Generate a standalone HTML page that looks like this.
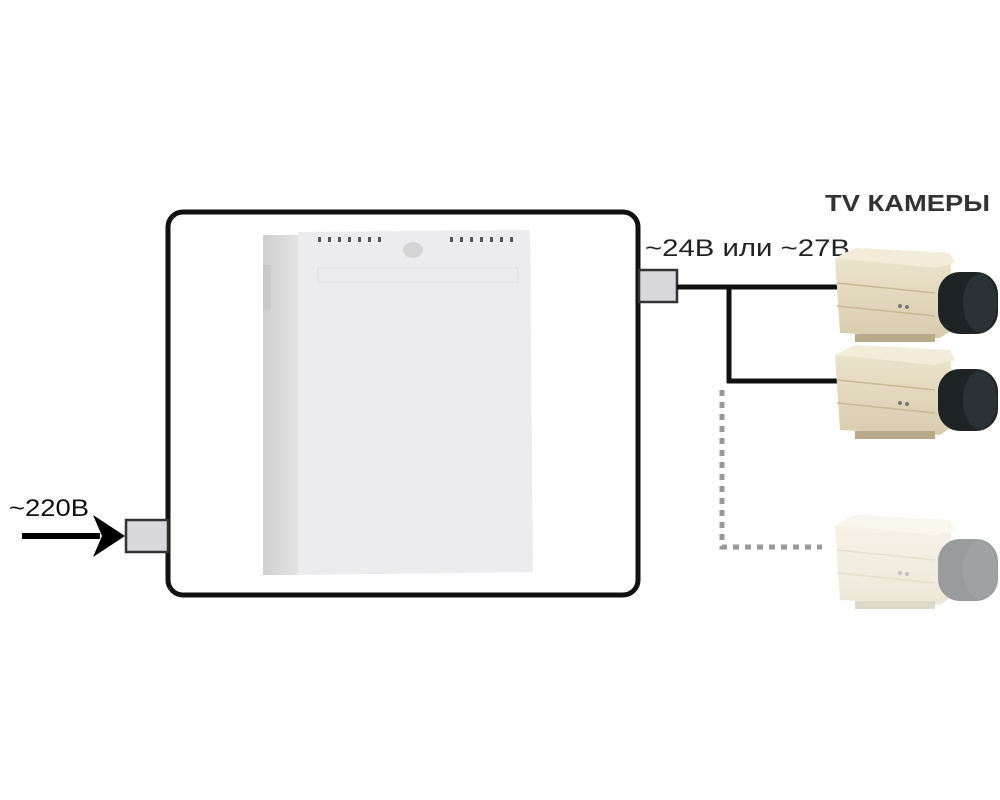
<!DOCTYPE html>
<html><head><meta charset="utf-8"><style>html,body{margin:0;padding:0;background:#fff}svg{display:block}</style></head>
<body>
<svg width="1000" height="800" viewBox="0 0 1000 800" xmlns="http://www.w3.org/2000/svg">
<defs>
<linearGradient id="side" x1="0" x2="1"><stop offset="0" stop-color="#cfcfcf"/><stop offset="1" stop-color="#e6e6e6"/></linearGradient>
<linearGradient id="cam" x1="0" y1="0" x2="0" y2="1"><stop offset="0" stop-color="#eee6d0"/><stop offset="1" stop-color="#d8ccad"/></linearGradient>
<g id="camera">
<polygon points="0,10 20,0 115,5 120,80 105,90 5,85" fill="url(#cam)"/>
<polygon points="0,10 100,20 120,15 115,5 20,0" fill="#f2ecd8"/>
<line x1="2" y1="35" x2="100" y2="45" stroke="#c7b995" stroke-width="1.5"/>
<line x1="2" y1="58" x2="100" y2="68" stroke="#c7b995" stroke-width="1.5"/>
<rect x="20" y="86" width="80" height="8" fill="#b8a98a"/>
<circle cx="65" cy="58" r="2" fill="#777"/><circle cx="72" cy="59" r="2" fill="#777"/>
<rect x="103" y="24" width="60" height="62" rx="22" fill="#1e2426"/>
<ellipse cx="145" cy="55" rx="17" ry="29" fill="#2b3235"/>
</g>
</defs>
<rect x="168" y="212" width="470" height="383" rx="15" fill="#fff" stroke="#111" stroke-width="5"/>
<rect x="263" y="235" width="40" height="340" fill="url(#side)"/>
<rect x="263" y="265" width="8" height="45" fill="#c9c9c9"/>
<path d="M298 232 L530 230 L533 572 L298 575 Z" fill="#ececee"/>
<rect x="318" y="268" width="200" height="14" fill="none" stroke="#dedede"/>
<g fill="#555">
<rect x="318" y="237" width="3" height="5"/><rect x="328" y="237" width="3" height="5"/><rect x="338" y="237" width="3" height="5"/><rect x="348" y="237" width="3" height="5"/><rect x="358" y="237" width="3" height="5"/><rect x="368" y="237" width="3" height="5"/><rect x="378" y="237" width="3" height="5"/>
<rect x="450" y="237" width="3" height="5"/><rect x="460" y="237" width="3" height="5"/><rect x="470" y="237" width="3" height="5"/><rect x="480" y="237" width="3" height="5"/><rect x="490" y="237" width="3" height="5"/><rect x="500" y="237" width="3" height="5"/><rect x="510" y="237" width="3" height="5"/>
</g>
<ellipse cx="413" cy="250" rx="10" ry="8" fill="#d4d4d4"/>
<text x="9" y="516" font-family="Liberation Sans, DejaVu Sans, sans-serif" font-size="24" fill="#111" textLength="80" lengthAdjust="spacingAndGlyphs">~220В</text>
<line x1="22" y1="536" x2="100" y2="536" stroke="#000" stroke-width="6"/>
<polygon points="93,515 125,536 93,557 102,536" fill="#000"/>
<rect x="126" y="520" width="42" height="32" fill="#d8d8dc" stroke="#333" stroke-width="2.5"/>
<text x="645" y="256" font-family="Liberation Sans, DejaVu Sans, sans-serif" font-size="24" fill="#222" textLength="205" lengthAdjust="spacingAndGlyphs">~24В или ~27В</text>
<text x="825" y="211" font-family="Liberation Sans, sans-serif" font-size="23" font-weight="bold" fill="#333" textLength="165" lengthAdjust="spacingAndGlyphs">TV КАМЕРЫ</text>
<rect x="639" y="270" width="38" height="32" fill="#d8d8dc" stroke="#333" stroke-width="2.5"/>
<line x1="677" y1="287" x2="840" y2="287" stroke="#111" stroke-width="5"/>
<line x1="729" y1="287" x2="729" y2="383" stroke="#111" stroke-width="5"/>
<line x1="727" y1="381" x2="840" y2="381" stroke="#111" stroke-width="5"/>
<path d="M722 390 V547 H822" fill="none" stroke="#999" stroke-width="5" stroke-dasharray="6,6"/>
<use href="#camera" x="835" y="248"/>
<use href="#camera" x="835" y="345"/>
<use href="#camera" x="835" y="515" opacity="0.45"/>
</svg>
</body></html>
